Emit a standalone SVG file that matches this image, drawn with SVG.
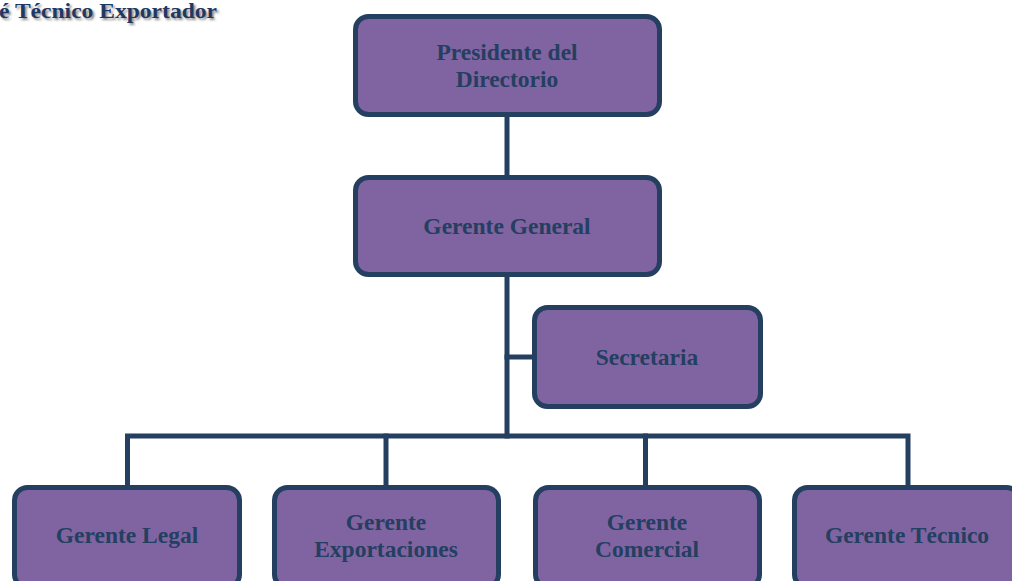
<svg xmlns="http://www.w3.org/2000/svg" width="1012" height="581" viewBox="0 0 1012 581">
  <defs>
    <filter id="softShadow" x="-10%" y="-50%" width="120%" height="200%">
      <feGaussianBlur stdDeviation="1.2"/>
    </filter>
  </defs>
  <style>
    .box { fill: #8064A2; stroke: #243F60; stroke-width: 5; }
    .lbl { font-family: "Liberation Serif", "Times New Roman", serif; font-weight: bold; font-size: 23.5px; fill: #243F60; text-anchor: middle; }
    .conn { fill: none; stroke: #243F60; stroke-width: 5; stroke-linecap: square; stroke-linejoin: miter; }
    .title { font-family: "Liberation Serif", "Times New Roman", serif; font-weight: bold; font-size: 20px; }
  </style>

  <rect width="1012" height="581" fill="#ffffff"/>

  <!-- heading, with a soft grey shadow -->
  <g id="title">
    <text class="title" x="1" y="20" fill="#8a8a8a" filter="url(#softShadow)" textLength="218" lengthAdjust="spacingAndGlyphs">é Técnico Exportador</text>
    <text class="title" x="-1" y="18" fill="#1F3864" textLength="218" lengthAdjust="spacingAndGlyphs">é Técnico Exportador</text>
  </g>

  <!-- connectors -->
  <g id="connectors">
    <line class="conn" x1="507" y1="119" x2="507" y2="175"/>
    <line class="conn" x1="507" y1="279" x2="507" y2="436"/>
    <line class="conn" x1="507" y1="357" x2="532" y2="357"/>
    <path class="conn" d="M127.5 485 V436 H908 V485"/>
    <line class="conn" x1="386" y1="436" x2="386" y2="485"/>
    <line class="conn" x1="645.5" y1="436" x2="645.5" y2="485"/>
  </g>

  <g id="presidente">
    <rect class="box" x="355.5" y="16.5" width="304" height="98" rx="13"/>
    <text class="lbl" x="507" y="60">Presidente del</text>
    <text class="lbl" x="507" y="87">Directorio</text>
  </g>

  <g id="gerente-general">
    <rect class="box" x="355.5" y="177.5" width="304" height="97" rx="13"/>
    <text class="lbl" x="507" y="234">Gerente General</text>
  </g>

  <g id="secretaria">
    <rect class="box" x="534.5" y="307.5" width="226" height="99" rx="13"/>
    <text class="lbl" x="647" y="365">Secretaria</text>
  </g>

  <g id="gerente-legal">
    <rect class="box" x="14.5" y="487.5" width="225" height="100" rx="13"/>
    <text class="lbl" x="127" y="543">Gerente Legal</text>
  </g>

  <g id="gerente-exportaciones">
    <rect class="box" x="274.5" y="487.5" width="224" height="100" rx="13"/>
    <text class="lbl" x="386" y="530">Gerente</text>
    <text class="lbl" x="386" y="557">Exportaciones</text>
  </g>

  <g id="gerente-comercial">
    <rect class="box" x="535.5" y="487.5" width="224" height="100" rx="13"/>
    <text class="lbl" x="647" y="530">Gerente</text>
    <text class="lbl" x="647" y="557">Comercial</text>
  </g>

  <g id="gerente-tecnico">
    <rect class="box" x="794.5" y="487.5" width="225" height="100" rx="13"/>
    <text class="lbl" x="907" y="543">Gerente Técnico</text>
  </g>
</svg>
